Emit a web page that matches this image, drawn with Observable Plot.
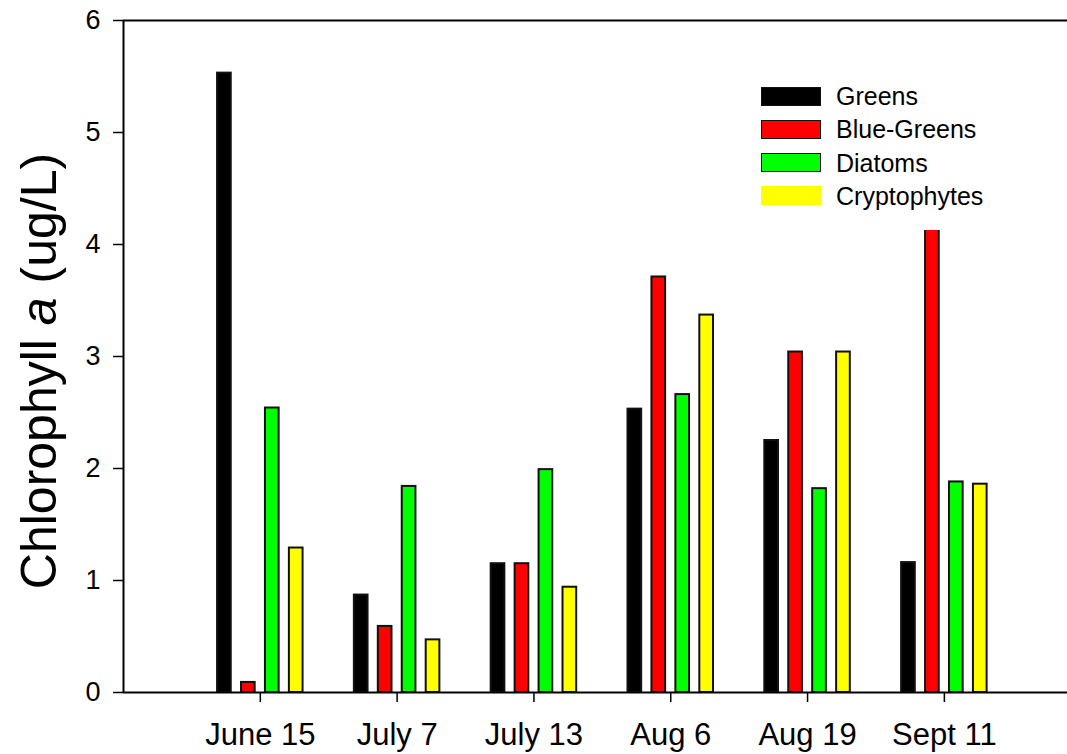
<!DOCTYPE html>
<html>
<head>
<meta charset="utf-8">
<script src="https://cdn.jsdelivr.net/npm/d3@7"></script>
<script src="https://cdn.jsdelivr.net/npm/@observablehq/plot@0.6"></script>
<style>
  html, body { margin: 0; padding: 0; background: #fff; }
  #wrap { position: relative; width: 1067px; height: 754px; overflow: hidden;
          font-family: "Liberation Sans", Arial, sans-serif; color: #000; }
  #wrap svg { position: absolute; left: 0; top: 0; }
  .ytitle { position: absolute; left: 39px; top: 371px; white-space: nowrap;
            font-size: 50px; transform: translate(-50%, -50%) rotate(-90deg); }
  .legend { position: absolute; left: 748px; top: 64px; width: 252px; height: 166px;
            background: #fff; }
  .legend .item { position: absolute; left: 13px; height: 20px; display: flex; align-items: center; }
  .legend .sw { width: 58px; height: 17px; border: 1.5px solid #111; }
  .legend .sw.noborder { border-color: transparent; }
  .legend .lab { margin-left: 15px; font-size: 25px; line-height: 20px; }
</style>
</head>
<body>
<div id="wrap"></div>
<script>
// Sampling dates and phytoplankton groups
const dates = ["June 15", "July 7", "July 13", "Aug 6", "Aug 19", "Sept 11"];
const groups = ["Greens", "Blue-Greens", "Diatoms", "Cryptophytes"];
const groupColors = ["#000000", "#ff0000", "#00ff00", "#ffff00"];

// Chlorophyll a (ug/L) per group, one value per date
const greens       = [5.53, 0.87, 1.15, 2.53, 2.25, 1.16];
const blueGreens   = [0.09, 0.59, 1.15, 3.71, 3.04, 4.50];
const diatoms      = [2.54, 1.84, 1.99, 2.66, 1.82, 1.88];
const cryptophytes = [1.29, 0.47, 0.94, 3.37, 3.04, 1.86];

const yTicks = [0, 1, 2, 3, 4, 5, 6];

const series = [greens, blueGreens, diatoms, cryptophytes];
const rows = dates.flatMap((date, i) =>
  series.map((vals, k) => ({date, group: groups[k], pos: i + 1, k, value: vals[i]}))
);

// bars within a date cluster: slot spacing and bar width in x-axis units
const slot = 0.175;
const barW = 0.1;

const chart = Plot.plot({
  width: 1067,
  height: 754,
  marginLeft: 123,
  marginRight: 0,
  marginTop: 20,
  marginBottom: 62,
  style: {fontFamily: '"Liberation Sans", Arial, sans-serif', color: "#000", background: "transparent", overflow: "visible"},
  x: {domain: [0, 6.9], axis: null},
  y: {domain: [0, 6], axis: null},
  color: {domain: groups, range: groupColors},
  marks: [
    Plot.rect(rows, {
      x1: d => d.pos + (d.k - 1.5) * slot - barW / 2,
      x2: d => d.pos + (d.k - 1.5) * slot + barW / 2,
      y1: () => 0,
      y2: "value",
      fill: "group",
      stroke: "#111",
      strokeWidth: 2
    }),
    Plot.axisY({ticks: yTicks, tickFormat: d => String(d), tickSize: 10, tickPadding: 13,
                fontSize: 27, label: null, strokeWidth: 1.5}),
    Plot.axisX({ticks: dates.map((_, i) => i + 1), tickFormat: v => dates[v - 1],
                tickSize: 10, tickPadding: 20, fontSize: 31, label: null, strokeWidth: 1.5}),
    Plot.ruleY([0, 6], {strokeWidth: 2}),
    Plot.ruleX([0], {strokeWidth: 2})
  ]
});

const wrap = document.getElementById("wrap");
wrap.appendChild(chart);

// y-axis title with italic "a"
const title = document.createElement("div");
title.className = "ytitle";
title.innerHTML = "Chlorophyll <i>a</i> (ug/L)";
wrap.appendChild(title);

// legend box
const legend = document.createElement("div");
legend.className = "legend";
groups.forEach((g, k) => {
  const item = document.createElement("div");
  item.className = "item";
  item.style.top = (22 + k * 33.3) + "px";
  const sw = document.createElement("div");
  sw.className = "sw" + (k === 3 ? " noborder" : "");
  sw.style.background = groupColors[k];
  const lab = document.createElement("span");
  lab.className = "lab";
  lab.textContent = g;
  item.appendChild(sw);
  item.appendChild(lab);
  legend.appendChild(item);
});
wrap.appendChild(legend);
</script>
</body>
</html>
